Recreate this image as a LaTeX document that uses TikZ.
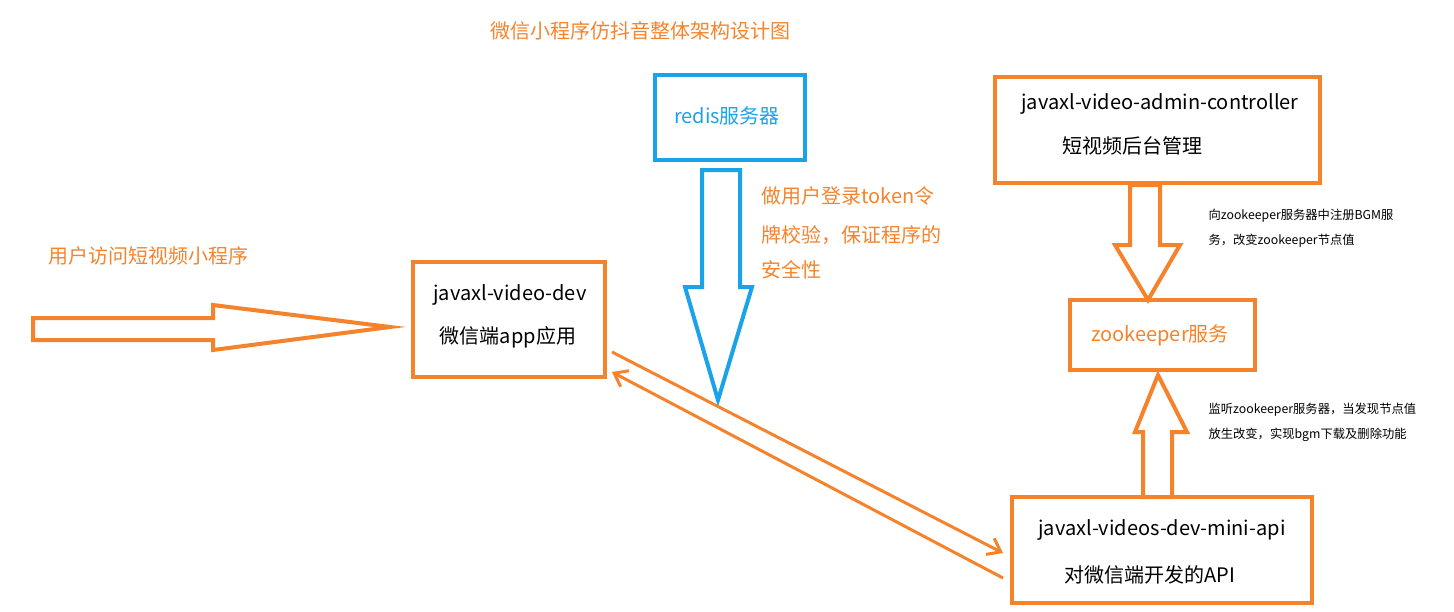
\documentclass[tikz,border=0pt]{standalone}
\usepackage{fontspec}
\setmainfont{Noto Sans CJK SC}
\usetikzlibrary{arrows.meta}
\definecolor{og}{HTML}{F5832B}
\definecolor{bl}{HTML}{1AA3E8}
\tikzset{
  box/.style={draw=og,line width=4pt,inner sep=0pt},
  bbox/.style={draw=bl,line width=4pt,inner sep=0pt},
  big/.style={font=\fontsize{20}{23}\selectfont},
  small/.style={font=\fontsize{12.3}{14}\selectfont,anchor=west},
  otext/.style={text=og,big},
  blk/.style={draw=og,line width=4pt,line join=miter},
}
\begin{document}
\begin{tikzpicture}[x=1pt,y=-1pt]
\useasboundingbox (0,0) rectangle (1454,611);
% boxes
\draw[bbox] (655,75) rectangle (805,160);
\node[big,text=bl] (redis) at (727,116) {redis服务器};
\draw[box] (995,77) rectangle (1320,183);
\node[big] (admin1) at (1160,104) {javaxl-video-admin-controller};
\node[big] (admin2) at (1132,146) {短视频后台管理};
\draw[box] (1070,300) rectangle (1255,370);
\node[otext] (zk) at (1160,335) {zookeeper服务};
\draw[box] (413,262) rectangle (605,377);
\node[big] (dev1) at (510,295) {javaxl-video-dev};
\node[big] (dev2) at (508,337) {微信端app应用};
\draw[box] (1012,497) rectangle (1312,603);
\node[big] (api1) at (1162,530) {javaxl-videos-dev-mini-api};
\node[big] (api2) at (1150,575) {对微信端开发的API};
% block arrows
\draw[blk] (33,318) -- (213,318) -- (213,305) -- (390,327) -- (213,350) -- (213,340) -- (33,340) -- cycle;
\draw[blk,draw=bl] (702,170) -- (740,170) -- (740,287) -- (752,287) -- (718,400) -- (685,287) -- (702,287) -- cycle;
\draw[blk] (1130,185) -- (1160,185) -- (1160,245) -- (1180,245) -- (1148,300) -- (1115,245) -- (1130,245) -- cycle;
\draw[blk] (1143,497) -- (1172,497) -- (1172,432) -- (1187,432) -- (1158,375) -- (1135,432) -- (1143,432) -- cycle;
% diagonal arrows
\coordinate (d1) at (612,352); \coordinate (a1) at (1003,553);
\coordinate (a2) at (1003,578); \coordinate (d2) at (612,372);
\draw[og,line width=3pt,-{Straight Barb[length=12pt,width=18pt]}] (d1) -- (a1);
\draw[og,line width=3pt,-{Straight Barb[length=12pt,width=18pt]}] (a2) -- (d2);
% texts
\node[otext] (title) at (640,31) {微信小程序仿抖音整体架构设计图};
\node[otext] (user) at (148,256) {用户访问短视频小程序};
\node[otext,anchor=west] (t1) at (758,196) {做用户登录token令};
\node[otext,anchor=west] (t2) at (758,235) {牌校验，保证程序的};
\node[otext,anchor=west] (t3) at (758,270) {安全性};
\node[small] (s1) at (1205,216) {向zookeeper服务器中注册BGM服};
\node[small] (s2) at (1205,241) {务，改变zookeeper节点值};
\node[small] (s3) at (1205,410) {监听zookeeper服务器，当发现节点值};
\node[small] (s4) at (1205,435) {放生改变，实现bgm下载及删除功能};
\end{tikzpicture}
\end{document}
